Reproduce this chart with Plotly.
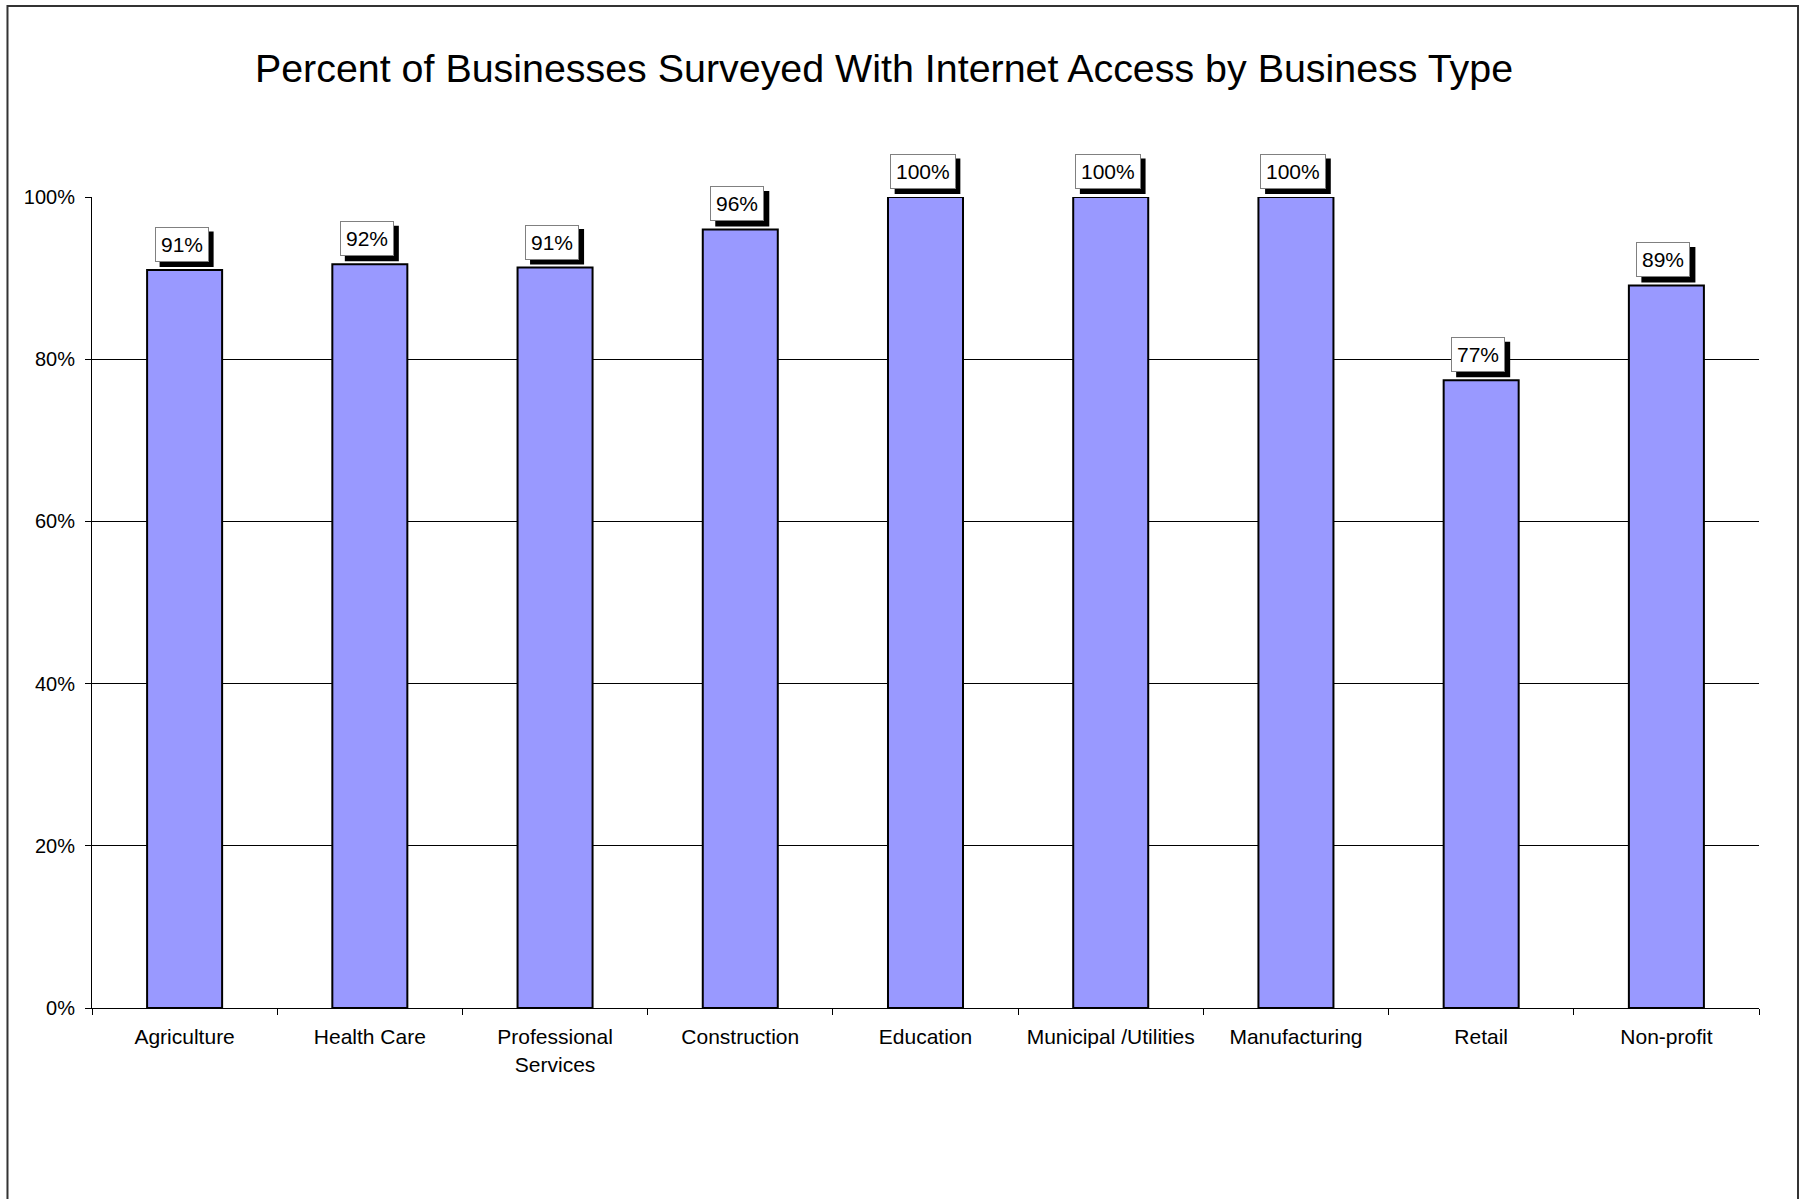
import plotly.graph_objects as go

categories = ["Agriculture", "Health Care", "Professional<br>Services", "Construction",
              "Education", "Municipal /Utilities", "Manufacturing", "Retail", "Non-profit"]
values = [0.910, 0.917, 0.913, 0.960, 1.0, 1.0, 1.0, 0.774, 0.891]
labels = [f"{round(v * 100)}%" for v in values]
y_ticks = [0, 0.2, 0.4, 0.6, 0.8, 1.0]
Y_RANGE = [0, 1]

FONT = "Liberation Sans, Arial, sans-serif"
LBL_SIZE = 21
PAD = 5
BW = 1
GAP = 8          # px between bar top and label box
SH = 5           # shadow offset px
XS = -3          # label box horizontal shift px


def text_width(t, size):
    w = 0.0
    for ch in t:
        w += 0.889 if ch == "%" else 0.556
    return w * size


fig = go.Figure()
fig.add_trace(go.Bar(
    x=categories, y=values, width=0.405,
    marker=dict(color="#9999FF", line=dict(color="black", width=2)),
    hoverinfo="skip",
))

annotations = []
shapes = []
for c, v, t in zip(categories, values, labels):
    w = text_width(t, LBL_SIZE) + 2 * (PAD + BW)
    h = LBL_SIZE * 1.117 + 2 * (PAD + BW)
    v_paper = (v - Y_RANGE[0]) / (Y_RANGE[1] - Y_RANGE[0])
    # drop shadow (pixel-sized shape anchored on the bar top; paper y so it is not clipped)
    shapes.append(dict(
        type="rect", xref="x", yref="paper",
        xsizemode="pixel", ysizemode="pixel",
        xanchor=c, yanchor=v_paper,
        x0=XS + SH - w / 2, x1=XS + SH + w / 2,
        y0=GAP - SH, y1=GAP - SH + h,
        fillcolor="black", line=dict(width=0), layer="above",
    ))
    annotations.append(dict(
        x=c, y=v, xref="x", yref="y", text=t, showarrow=False,
        yanchor="bottom", xanchor="center", xshift=XS, yshift=GAP,
        font=dict(family=FONT, size=LBL_SIZE, color="black"),
        bgcolor="white", bordercolor="#808080", borderwidth=BW, borderpad=PAD,
    ))

shapes.append(dict(type="rect", xref="paper", yref="paper",
                   x0=-0.0507, x1=1.0234, y0=-0.3, y1=1.2354,
                   line=dict(color="#333333", width=2), layer="below"))

fig.update_layout(
    width=1803, height=1199,
    margin=dict(l=92, r=44, t=197, b=191),
    paper_bgcolor="white", plot_bgcolor="white",
    showlegend=False,
    font=dict(family=FONT, size=20, color="black"),
    title=dict(text="Percent of Businesses Surveyed With Internet Access by Business Type",
               font=dict(family=FONT, size=39.4, color="black"),
               xref="container", x=0.4903, xanchor="center",
               yref="container", y=1 - 68 / 1199, yanchor="middle"),
    annotations=annotations,
    shapes=shapes,
)

fig.update_xaxes(
    showline=True, linecolor="black", linewidth=1,
    ticks="outside", tickson="boundaries", ticklen=6, tickcolor="black",
    showgrid=False, tickfont=dict(family=FONT, size=21, color="black"),
    ticklabelstandoff=10,
)
fig.update_yaxes(
    range=Y_RANGE, tickvals=y_ticks, tickformat=".0%",
    showline=True, linecolor="black", linewidth=1,
    ticks="outside", ticklen=6, tickcolor="black",
    showgrid=True, gridcolor="black", gridwidth=1, zeroline=False,
    tickfont=dict(family=FONT, size=20, color="black"),
    ticklabelstandoff=6,
)

fig.write_html("out.html", config={"displayModeBar": False},
               post_script="document.body.style.margin='0';")
